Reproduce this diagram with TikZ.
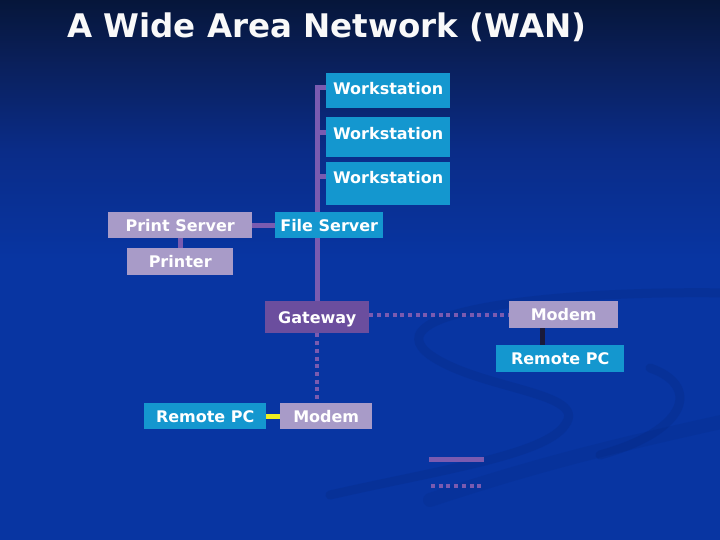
\documentclass[tikz,border=0pt]{standalone}
\usepackage{fontspec}
\setmainfont{DejaVu Sans}
\definecolor{bgtop}{HTML}{06163A}
\definecolor{bga}{HTML}{0A205C}
\definecolor{bgb}{HTML}{0A2C88}
\definecolor{bgc}{HTML}{0835A2}
\definecolor{cyanbox}{HTML}{1497CF}
\definecolor{lilac}{HTML}{A89BC8}
\definecolor{gwpurple}{HTML}{6B4E9E}
\definecolor{wire}{HTML}{7A5BB0}
\definecolor{darkwire}{HTML}{1A1A3A}
\definecolor{yelwire}{HTML}{EEEE22}
\definecolor{swooshc}{HTML}{052478}
\pgfdeclareverticalshading{wanbg}{100bp}{color(0bp)=(bgc); color(51bp)=(bgc); color(61bp)=(bgb); color(69bp)=(bga); color(75bp)=(bgtop); color(100bp)=(bgtop)}
\pgfdeclarelayer{bg}
\pgfdeclarelayer{wires}
\pgfsetlayers{bg,wires,main}
\begin{document}
\begin{tikzpicture}[x=1pt,y=-1pt,
    lbl/.style={anchor=north west,inner sep=0pt,text=white,font=\bfseries\fontsize{16}{19}\selectfont},
    box/.style={lbl,text height=12pt,text depth=0pt},
    wsbox/.style={lbl,fill=cyanbox,minimum width=124pt},
    bus/.style={wire,line width=5pt,line join=miter},
    dot/.style={wire,line width=4pt,dash pattern=on 4pt off 3.7pt},
    swoosh/.style={swooshc,opacity=0.22,line width=9pt,line cap=round}]
    \useasboundingbox (0,0) rectangle (720,540);
    \begin{pgfonlayer}{bg}
        \clip (0,0) rectangle (720,540);
        \shade[shading=wanbg] (0,0) rectangle (720,540);
        \draw[swoosh] (730,293) .. controls (560,290) and (370,310) .. (430,355) .. controls (480,390) and (590,392) .. (565,425) .. controls (545,455) and (440,470) .. (330,495);
        \draw[swoosh] (650,368) .. controls (700,385) and (690,430) .. (600,455);
        \draw[swoosh,line width=14pt,opacity=0.16] (430,500) .. controls (550,460) and (640,440) .. (730,420);
    \end{pgfonlayer}
    \node[anchor=base west,inner sep=0pt,text=white!95!gray,font=\bfseries\fontsize{32.5}{40}\selectfont] (ttl) at (67,38) {A Wide Area Network (WAN)};
    % workstations
    \node[wsbox,text height=21pt,text depth=14pt] (ws1) at (326,73) {Workstation};
    \node[wsbox,text height=22pt,text depth=18pt] (ws2) at (326,117) {Workstation};
    \node[wsbox,text height=21pt,text depth=22pt] (ws3) at (326,162) {Workstation};
    % servers
    \node[box,fill=cyanbox,minimum width=108pt,minimum height=26pt] (fs) at (275,212) {File Server};
    \node[box,fill=lilac,minimum width=144pt,minimum height=26pt] (ps) at (108,212) {Print Server};
    \node[box,fill=lilac,minimum width=106pt,minimum height=27pt] (pr) at (127,248) {Printer};
    \node[box,fill=gwpurple,minimum width=104pt,minimum height=32pt] (gw) at (265,301) {Gateway};
    % remote sites
    \node[box,fill=lilac,minimum width=109pt,minimum height=27pt] (mr) at (509,301) {Modem};
    \node[box,fill=cyanbox,minimum width=128pt,minimum height=27pt] (rr) at (496,345) {Remote PC};
    \node[box,fill=cyanbox,minimum width=122pt,minimum height=26pt] (rl) at (144,403) {Remote PC};
    \node[box,fill=lilac,minimum width=92pt,minimum height=26pt] (ml) at (280,403) {Modem};
    \coordinate (lg1) at (429,459);
    \coordinate (lg2) at (431,486);
    \begin{pgfonlayer}{wires}
        \foreach \w in {ws1,ws2,ws3}{\draw[bus] ([yshift=7pt]\w.base west) -| (gw.north);}
        \draw[bus] (ps) -- (fs);
        \draw[bus] (ps) -- (pr);
        \draw[dot] (gw.east |- mr) -- (mr.west);
        \draw[dot] (gw.south) -- (gw.south |- ml.north);
        \draw[darkwire,line width=5pt] ([xshift=-21pt]mr.south) -- ([xshift=-21pt]mr.south |- rr.north);
        \draw[yelwire,line width=5pt] (rl) -- (ml);
        \draw[bus] (lg1) -- ++(55,0);
        \draw[dot] (lg2) -- ++(53,0);
    \end{pgfonlayer}
\end{tikzpicture}
\end{document}
